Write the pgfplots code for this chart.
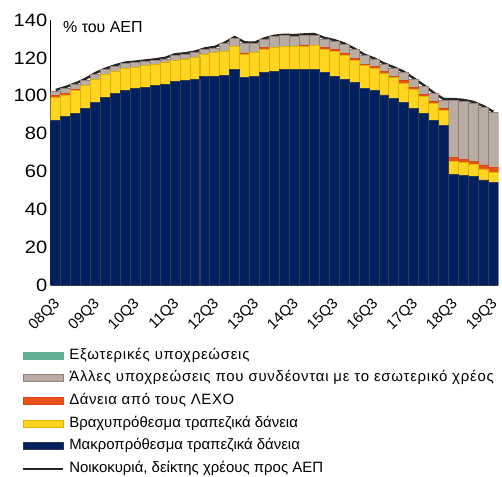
\documentclass[border=0pt]{standalone}
\usepackage{fontspec}
\setmainfont{Liberation Sans}
\newfontfamily\tickfont[FakeStretch=1.12]{Liberation Sans}
\usepackage{pgfplots}
\pgfplotsset{compat=1.18}
\usepackage{pgfplotstable}

\definecolor{navy}{RGB}{0,33,94}
\definecolor{navyedge}{RGB}{50,60,82}
\definecolor{yel}{RGB}{255,213,33}
\definecolor{yeledge}{RGB}{226,178,0}
\definecolor{ora}{RGB}{232,82,26}
\definecolor{oraedge}{RGB}{220,72,22}
\definecolor{gry}{RGB}{184,172,165}
\definecolor{gryedge}{RGB}{146,128,118}
\definecolor{teal2}{RGB}{96,174,146}
\definecolor{lin}{RGB}{38,38,38}

\pgfplotsset{
  swatch/.style={legend image code/.code={\draw[##1] (0bp,-3.5bp) rectangle (40bp,3.5bp);}},
  lineswatch/.style={legend image code/.code={\draw[##1] (0bp,0bp) -- (40bp,0bp);}},
}

\pgfplotstableread{
k B Y O G L
0 86.7 12.3 1.2 2.2 103.0
1 89.1 11.3 0.6 3.0 104.6
2 90.8 12.1 0.3 2.7 106.5
3 93.2 12.2 0.1 2.8 108.9
4 96.4 12.3 0.1 2.6 112.0
5 99.0 12.0 0.1 2.6 114.3
6 101.2 11.6 0.1 2.6 116.1
7 103.0 11.4 0.1 2.4 117.5
8 103.7 11.3 0.1 2.3 118.0
9 104.4 11.5 0.1 2.0 118.6
10 105.3 11.2 0.1 2.0 119.2
11 106.0 11.4 0.1 1.9 120.0
12 107.7 10.9 0.1 2.6 121.9
13 107.9 11.4 0.1 2.4 122.4
14 108.6 11.5 0.1 2.5 123.3
15 110.3 11.4 0.1 2.6 125.0
16 110.4 12.3 0.1 2.4 125.8
17 110.9 12.6 0.1 3.8 128.0
18 113.8 12.2 0.1 4.3 131.0
19 109.6 12.4 0.6 5.0 128.2
20 110.4 12.4 0.2 4.4 128.0
21 112.1 12.5 0.7 4.4 130.3
22 112.9 12.5 0.3 5.4 131.7
23 113.9 12.0 0.3 5.4 132.2
24 113.9 12.0 0.3 5.2 132.0
25 113.9 12.3 0.6 5.0 132.4
26 113.9 12.5 0.3 5.3 132.6
27 112.1 12.4 1.0 4.5 130.6
28 110.4 13.2 0.9 4.3 129.4
29 108.6 12.5 1.3 4.6 127.6
30 106.9 11.9 0.9 4.7 125.0
31 103.9 11.9 0.9 4.5 121.8
32 103.0 11.4 0.9 3.8 119.7
33 100.4 11.4 0.9 3.8 117.1
34 98.6 10.9 0.9 4.0 115.0
35 96.5 10.0 1.4 4.2 112.7
36 93.3 10.0 0.9 4.4 109.2
37 90.7 9.1 0.9 4.3 105.6
38 87.1 8.8 0.9 4.2 101.6
39 84.2 8.2 0.9 4.4 98.3
40 58.6 6.9 1.8 30.3 98.2
41 58.1 6.5 1.8 30.8 97.8
42 57.2 6.5 1.8 30.6 96.7
43 55.5 5.8 2.1 30.5 94.5
44 54.0 5.5 2.5 29.0 91.6
}\data

\begin{document}
\begin{tikzpicture}
\useasboundingbox (-50.7bp,-192bp) rectangle (451.3bp,285bp);
\begin{axis}[
  at={(0,0)}, anchor=south west,
  scale only axis, width=447.6bp, height=265bp,
  ybar stacked, bar width=9.95bp,
  xmin=-0.5, xmax=44.5, ymin=0, ymax=140,
  enlargelimits=false,
  axis x line=bottom, axis y line=left,
  axis line style={-, black},
  x axis line style={line width=1.3bp},
  y axis line style={line width=0.8bp},
  major tick length=0pt,
  xtick={0,4,...,44},
  xticklabels={08Q3,09Q3,10Q3,11Q3,12Q3,13Q3,14Q3,15Q3,16Q3,17Q3,18Q3,19Q3},
  xticklabel style={xshift=2bp, yshift=-17bp, rotate=45, anchor=east, inner sep=0pt, font=\fontsize{15}{15}\selectfont},
  ytick={0,20,...,140},
  yticklabel style={font=\tickfont\fontsize{18}{18}\selectfont},
  /pgf/number format/assume math mode=true,
  legend style={
    at={(-0.0648,-0.2377)}, anchor=north west,
    draw=none, fill=none, inner sep=0pt,
    font=\fontsize{15}{15}\selectfont,
    row sep=8.2bp, column sep=5bp,
    nodes={inner sep=0pt, text height=11bp, text depth=3.5bp},
  },
  legend cell align=left,
  reverse legend,
]
\addlegendimage{lin, line width=2.4bp, lineswatch}
\addlegendentry{Νοικοκυριά, δείκτης χρέους προς ΑΕΠ}

\addplot[fill=navy, draw=navyedge, line width=0.8bp, swatch]
  table[x=k, y=B] {\data};
\addlegendentry{Μακροπρόθεσμα τραπεζικά δάνεια}

\addplot[fill=yel, draw=yeledge, line width=0.8bp, swatch]
  table[x=k, y=Y] {\data};
\addlegendentry{Βραχυπρόθεσμα τραπεζικά δάνεια}

\addplot[fill=ora, draw=oraedge, line width=0.8bp, swatch]
  table[x=k, y=O] {\data};
\addlegendentry{\addfontfeature{LetterSpace=4}Δάνεια από τους ΛΕΧΟ}

\addplot[fill=gry, draw=gryedge, line width=0.8bp, swatch]
  table[x=k, y=G] {\data};
\addlegendentry{\addfontfeature{LetterSpace=5}Άλλες υποχρεώσεις που συνδέονται με το εσωτερικό χρέος}

\addlegendimage{fill=teal2, draw=teal2, line width=0.8bp, swatch}
\addlegendentry{\addfontfeature{LetterSpace=5}Εξωτερικές υποχρεώσεις}

\addplot[stack plots=false, sharp plot, lin, line width=2.4bp, forget plot]
  table[x=k, y=L] {\data};

\node[anchor=west, font=\fontsize{16}{16}\selectfont] at (rel axis cs:0.02,0.974) {\% του ΑΕΠ};
\end{axis}
\end{tikzpicture}
\end{document}
